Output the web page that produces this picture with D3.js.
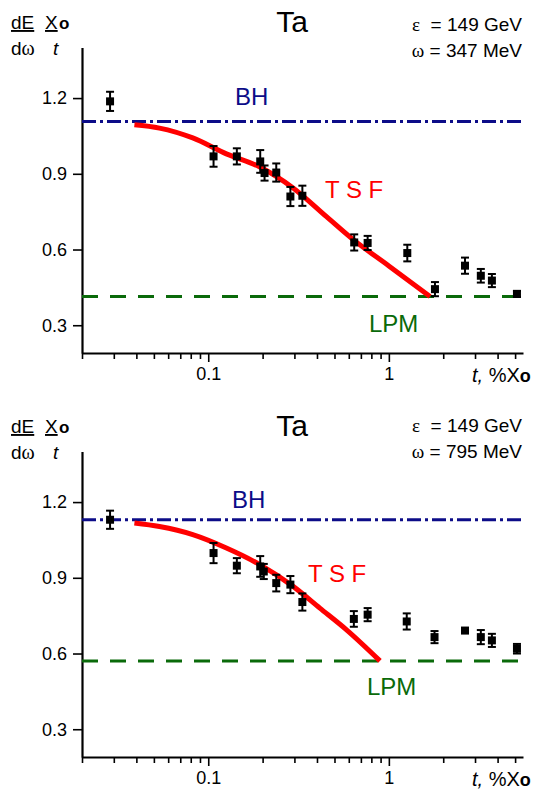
<!DOCTYPE html>
<html>
<head>
<meta charset="utf-8">
<script src="https://cdn.jsdelivr.net/npm/d3@7"></script>
<style>
  body { margin: 0; background: #fff; }
  svg text { font-family: "Liberation Sans", Arial, sans-serif; fill: #000; }
  .serif { font-family: "Liberation Serif", "Times New Roman", serif; }
</style>
</head>
<body>
<div id="chart"></div>
<script>
// axis ticks (shared by both panels)
const xMajor = [0.1, 1];
const xMinor = [0.02, 0.03, 0.04, 0.05, 0.06, 0.07, 0.08, 0.09,
                0.2, 0.3, 0.4, 0.5, 0.6, 0.7, 0.8, 0.9, 2, 3, 4, 5];
const yTicks = [0.3, 0.6, 0.9, 1.2];

// top panel, omega = 347 MeV
const t1   = [0.0286, 0.107, 0.144, 0.194, 0.205, 0.238, 0.285, 0.332, 0.643, 0.763, 1.265, 1.80, 2.64, 3.23, 3.72, 5.12];
const v1   = [1.187, 0.969, 0.969, 0.949, 0.903, 0.905, 0.810, 0.813, 0.628, 0.626, 0.586, 0.443, 0.536, 0.496, 0.477, 0.424];
const err1 = [0.038, 0.041, 0.032, 0.045, 0.030, 0.036, 0.038, 0.040, 0.032, 0.028, 0.033, 0.028, 0.032, 0.027, 0.026, 0.012];
const tsfT1 = [0.039, 0.0537, 0.0821, 0.126, 0.193, 0.295, 0.45, 0.635, 1.0, 1.69];
const tsfV1 = [1.094, 1.081, 1.042, 0.979, 0.927, 0.844, 0.731, 0.639, 0.535, 0.414];
const bh1 = 1.107;
const lpm1 = 0.414;

// bottom panel, omega = 795 MeV
const t2   = [0.0286, 0.107, 0.144, 0.194, 0.203, 0.238, 0.285, 0.332, 0.64, 0.763, 1.256, 1.79, 2.64, 3.23, 3.72, 5.12];
const v2   = [1.130, 0.998, 0.948, 0.945, 0.925, 0.879, 0.873, 0.804, 0.737, 0.754, 0.727, 0.665, 0.691, 0.665, 0.652, 0.619];
const err2 = [0.036, 0.040, 0.030, 0.041, 0.030, 0.033, 0.034, 0.034, 0.031, 0.026, 0.032, 0.024, 0.010, 0.028, 0.026, 0.019];
const tsfT2 = [0.039, 0.0537, 0.0821, 0.126, 0.193, 0.295, 0.415, 0.583, 0.893];
const tsfV2 = [1.117, 1.103, 1.071, 1.018, 0.952, 0.866, 0.780, 0.694, 0.571];
const bh2 = 1.130;
const lpm2 = 0.570;

const width = 541;
const height = 789;

const x = d3.scaleLog()
    .domain([0.02, 5.53])
    .range([82, 523]);

const y = d3.scaleLinear()
    .domain([0.19, 1.40])
    .range([353, 47.6]);

const svg = d3.select("#chart")
    .append("svg")
    .attr("width", width)
    .attr("height", height);

svg.append("rect")
    .attr("width", width)
    .attr("height", height)
    .attr("fill", "#fff");

function drawPanel(offsetY, p) {
    const g = svg.append("g")
        .attr("transform", `translate(0,${offsetY})`);

    // X axis: minor ticks then major ticks with labels
    g.append("g")
        .attr("transform", `translate(0,${y.range()[0]})`)
        .call(d3.axisBottom(x).tickValues(xMinor).tickSize(6).tickSizeOuter(0).tickFormat(""))
        .call(a => a.select(".domain").remove())
        .call(a => a.selectAll("line").attr("stroke-width", 1.6));

    const xAx = g.append("g")
        .attr("transform", `translate(0,${y.range()[0]})`)
        .call(d3.axisBottom(x).tickValues(xMajor).tickSize(9).tickSizeOuter(0)
            .tickPadding(5).tickFormat(d => d));
    xAx.select(".domain").attr("stroke-width", 2.2);
    xAx.selectAll("line").attr("stroke-width", 1.6);
    xAx.selectAll("text").style("font-size", "18px").attr("font-family", null);

    // Y axis
    const yAx = g.append("g")
        .attr("transform", `translate(${x.range()[0]},0)`)
        .call(d3.axisLeft(y).tickValues(yTicks).tickSize(9).tickSizeOuter(0)
            .tickPadding(6).tickFormat(d3.format(".1f")));
    yAx.select(".domain").attr("stroke-width", 2.2);
    yAx.selectAll("line").attr("stroke-width", 1.6);
    yAx.selectAll("text").style("font-size", "18px").attr("font-family", null);

    const xEnd = 5.4;

    // BH dash-dot line
    g.append("line")
        .attr("x1", x(0.02)).attr("x2", x(xEnd))
        .attr("y1", y(p.bh)).attr("y2", y(p.bh))
        .attr("stroke", "#0c0c88")
        .attr("stroke-width", 3)
        .attr("stroke-dasharray", "14,4,3,4");

    // LPM dashed line
    g.append("line")
        .attr("x1", x(0.02)).attr("x2", x(xEnd))
        .attr("y1", y(p.lpm)).attr("y2", y(p.lpm))
        .attr("stroke", "#0a6a0a")
        .attr("stroke-width", 3)
        .attr("stroke-dasharray", "16,12");

    // TSF curve
    const line = d3.line()
        .x(d => x(d[0]))
        .y(d => y(d[1]))
        .curve(d3.curveMonotoneX);

    g.append("path")
        .datum(p.tsfT.map((t, i) => [t, p.tsfV[i]]))
        .attr("fill", "none")
        .attr("stroke", "#ff0000")
        .attr("stroke-width", 5)
        .attr("d", line);

    // data with error bars
    const pts = p.t.map((t, i) => ({ t: t, v: p.v[i], e: p.err[i] }));
    const pg = g.append("g").attr("stroke", "#000").attr("stroke-width", 2);

    pg.selectAll(".eb")
        .data(pts)
        .enter().append("line")
        .attr("x1", d => x(d.t)).attr("x2", d => x(d.t))
        .attr("y1", d => y(d.v - d.e)).attr("y2", d => y(d.v + d.e));

    pg.selectAll(".capTop")
        .data(pts)
        .enter().append("line")
        .attr("x1", d => x(d.t) - 4).attr("x2", d => x(d.t) + 4)
        .attr("y1", d => y(d.v + d.e)).attr("y2", d => y(d.v + d.e));

    pg.selectAll(".capBot")
        .data(pts)
        .enter().append("line")
        .attr("x1", d => x(d.t) - 4).attr("x2", d => x(d.t) + 4)
        .attr("y1", d => y(d.v - d.e)).attr("y2", d => y(d.v - d.e));

    g.selectAll(".pt")
        .data(pts)
        .enter().append("rect")
        .attr("x", d => x(d.t) - 4)
        .attr("y", d => y(d.v) - 4)
        .attr("width", 8)
        .attr("height", 8)
        .attr("fill", "#000");

    // labels
    g.append("text")
        .attr("x", p.bhPos[0]).attr("y", p.bhPos[1])
        .style("fill", "#0c0c88")
        .style("font-size", "24px")
        .text("BH");

    g.append("text")
        .attr("x", p.tsfPos[0]).attr("y", p.tsfPos[1])
        .style("fill", "#ff0000")
        .style("font-size", "24px")
        .style("white-space", "pre")
        .text("T S F");

    g.append("text")
        .attr("x", p.lpmPos[0]).attr("y", p.lpmPos[1])
        .style("fill", "#0a6a0a")
        .style("font-size", "24px")
        .text("LPM");

    g.append("text")
        .attr("x", 292).attr("y", 32)
        .attr("text-anchor", "middle")
        .style("font-size", "30px")
        .text("Ta");

    // energy header
    const e1 = g.append("text")
        .attr("x", 522).attr("y", p.headY[0])
        .attr("text-anchor", "end")
        .style("font-size", "19px")
        .style("white-space", "pre");
    e1.append("tspan").attr("class", "serif").text("ε");
    e1.append("tspan").text("  = 149 GeV");

    const e2 = g.append("text")
        .attr("x", 522).attr("y", p.headY[1])
        .attr("text-anchor", "end")
        .style("font-size", "19px")
        .style("white-space", "pre");
    e2.append("tspan").attr("class", "serif").text("ω");
    e2.append("tspan").text(" = " + p.omega + " MeV");

    // y label  dE/dω · X0/t
    g.append("text")
        .attr("x", 11).attr("y", 29)
        .style("font-size", "19px")
        .style("text-decoration", "underline")
        .text("dE");
    g.append("text")
        .attr("x", 45).attr("y", 29)
        .style("font-size", "19px")
        .style("text-decoration", "underline")
        .text("X");
    g.append("text")
        .attr("x", 59).attr("y", 29)
        .style("font-size", "17px")
        .style("font-weight", "bold")
        .text("o");

    const dw = g.append("text")
        .attr("x", 11).attr("y", 55)
        .style("font-size", "19px");
    dw.append("tspan").text("d");
    dw.append("tspan").attr("class", "serif").style("font-size", "20px").text("ω");
    g.append("text")
        .attr("x", 53).attr("y", 55)
        .style("font-size", "19px")
        .style("font-style", "italic")
        .text("t");

    // x label
    const xl = g.append("text")
        .attr("x", 472).attr("y", 382)
        .style("font-size", "20px")
        .style("white-space", "pre");
    xl.append("tspan").style("font-style", "italic").text("t,");
    xl.append("tspan").text(" %X");
    xl.append("tspan").style("font-weight", "bold").style("font-size", "18px").text("o");
}

drawPanel(0, {
    t: t1, v: v1, err: err1, tsfT: tsfT1, tsfV: tsfV1, bh: bh1, lpm: lpm1,
    omega: "347", headY: [31, 57],
    bhPos: [235, 105], tsfPos: [325, 198], lpmPos: [369, 332]
});

drawPanel(404, {
    t: t2, v: v2, err: err2, tsfT: tsfT2, tsfV: tsfV2, bh: bh2, lpm: lpm2,
    omega: "795", headY: [28, 54],
    bhPos: [232, 104], tsfPos: [308, 178], lpmPos: [367, 291]
});
</script>
</body>
</html>
